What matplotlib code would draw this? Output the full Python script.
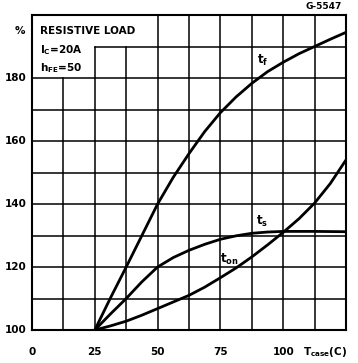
import matplotlib
matplotlib.use("Agg")
import matplotlib.pyplot as plt
import numpy as np

# Data
tcase = [25, 31.25, 37.5, 43.75, 50, 56.25, 62.5, 68.75, 75, 81.25, 87.5,
         93.75, 100, 106.25, 112.5, 118.75, 125]
t_f = [100, 110.2, 120, 130, 140, 148.5, 156, 163, 169, 174, 178.3,
       182, 185, 187.7, 190, 192.3, 194.5]
t_s = [100, 105.1, 110, 115.3, 120, 123, 125.3, 127.2, 128.8, 129.9, 130.7,
       131.1, 131.3, 131.3, 131.3, 131.25, 131.2]
t_on = [100, 101.3, 102.8, 104.7, 106.8, 108.9, 111, 113.6, 116.6, 119.7, 123.2,
        127, 131, 135.3, 140.3, 146.5, 154]

xticks = [0, 25, 50, 75, 100]
yticks = [100, 120, 140, 160, 180]

plt.rcParams['font.family'] = ['DejaVu Sans']
fig = plt.figure(figsize=(3.58, 3.63), dpi=100)
ax = fig.add_axes([32/358, 1-330/363, (346-32)/358, (330-15)/363])
ax.set_xlim(0, 125)
ax.set_ylim(100, 200)

gc = 'black'
glw = 1.1
# vertical grid lines (some shortened by the text box)
for x in np.arange(12.5, 125, 12.5):
    top = 200
    if x == 12.5:
        top = 180
    elif x in (25, 37.5):
        top = 190
    ax.plot([x, x], [100, top], color=gc, lw=glw, zorder=1)
for y in np.arange(110, 200, 10):
    left = 0
    if y == 190:
        left = 25
    ax.plot([left, 125], [y, y], color=gc, lw=glw, zorder=1)

clw = 2.0
for ser in (t_f, t_s, t_on):
    ax.plot(tcase, ser, color='black', lw=clw, zorder=3,
            solid_capstyle='round', solid_joinstyle='round')

for s in ax.spines.values():
    s.set_linewidth(1.5)

ax.set_xticks([])
ax.set_yticks([])

fs = 7.5
kw = dict(fontsize=fs, fontweight='bold', color='black')
for y in yticks:
    ax.text(-2, y, str(y), ha='right', va='center', **kw)
for x in xticks:
    ax.text(x, 93, str(x), ha='center', va='center', **kw)
ax.text(108, 93, r'T$_{\mathregular{case}}$(C)', ha='left', va='center', **kw)
ax.text(-4.8, 195, '%', ha='center', va='center', **kw)
fig.text(0.955, 0.982, 'G-5547', ha='right', va='center', fontsize=6.5, fontweight='bold')

ax.text(3, 195, 'RESISTIVE LOAD', ha='left', va='center', **kw)
ax.text(3, 189, r'I$_{\mathregular{C}}$=20A', ha='left', va='center', **kw)
ax.text(3, 183, r'h$_{\mathregular{FE}}$=50', ha='left', va='center', **kw)

lk = dict(fontsize=8.5, fontweight='bold', color='black')
ax.text(89.5, 185.5, r't$_{\mathregular{f}}$', ha='left', va='center', **lk)
ax.text(89, 134.5, r't$_{\mathregular{s}}$', ha='left', va='center', **lk)
ax.text(75, 122.5, r't$_{\mathregular{on}}$', ha='left', va='center', **lk)

fig.savefig('out.png', dpi=100)
